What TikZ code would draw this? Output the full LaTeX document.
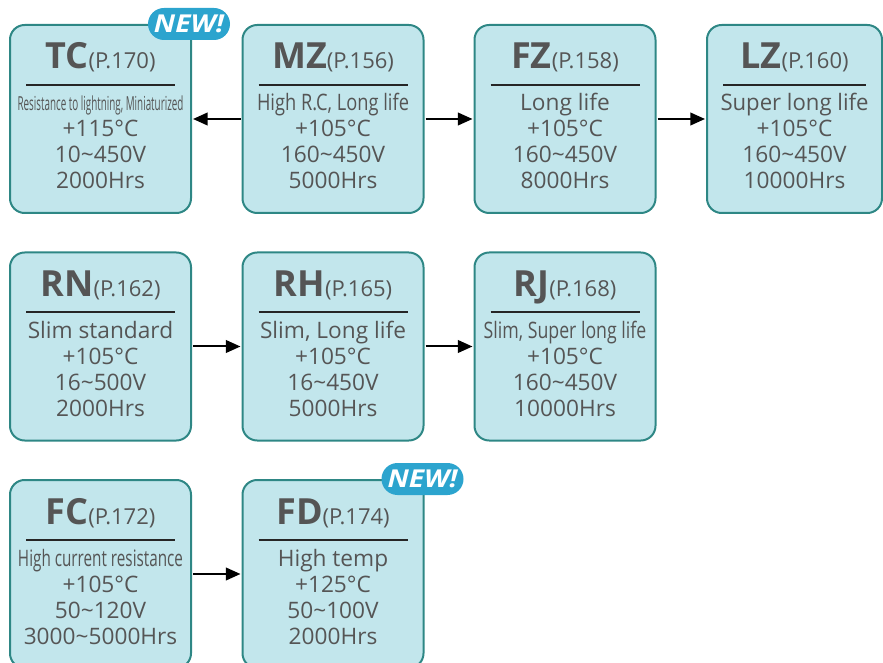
\documentclass[tikz,border=0pt]{standalone}
\usepackage{fontspec}
\setmainfont{Open Sans}
\usetikzlibrary{arrows.meta,calc}

\definecolor{cardfill}{HTML}{C2E6EC}
\definecolor{cardline}{HTML}{2E8785}
\definecolor{inkgray}{HTML}{555555}
\definecolor{newblue}{HTML}{2CA4CE}

\newcommand{\pagefont}{\fontsize{16.5}{18}\selectfont\mdseries}
\newcommand{\fitw}[2]{\resizebox{#1}{\height}{#2}}
% name, centre, code, page, use, temperature, voltage, life
\newcommand{\card}[8]{%
  \node[card] (#1) at (#2) {};
  \node[ttl] (#1-ttl) at ($(#1.north)+(0,44)$) {#3{\pagefont(#4)}};
  \draw[rule] ($(#1.north west)+(16,60)$) -- ($(#1.north east)+(-16,60)$);
  \node[txt] (#1-use) at ($(#1.north)+(0,86)$) {#5};
  \node[txt] (#1-temp) at ($(#1.north)+(0,112)$) {#6};
  \node[txt] (#1-volt) at ($(#1.north)+(0,138)$) {#7};
  \node[txt] (#1-life) at ($(#1.north)+(0,164)$) {#8};
}

\tikzset{
  card/.style={draw=cardline, fill=cardfill, line width=1.5pt, rounded corners=11pt,
    minimum width=135.75pt, minimum height=141pt, inner sep=0pt, outer sep=0pt},
  ttl/.style={anchor=base, inner sep=0pt, text=inkgray, font=\fontsize{27}{30}\selectfont\bfseries},
  txt/.style={anchor=base, inner sep=0pt, text=inkgray, font=\fontsize{17}{20}\selectfont},
  rule/.style={line width=1.5pt, black!85},
  link/.style={line width=1.5pt, -{Triangle[length=11pt,width=9.5pt]}, shorten <=1.5pt, shorten >=1.5pt},
  newtag/.style={fill=newblue, text=white, rounded corners=12pt, minimum width=61.5pt,
    minimum height=24pt, inner sep=0pt, font=\fontsize{18.5}{18}\selectfont\bfseries\itshape}
}

\begin{document}
\begin{tikzpicture}[x=0.75pt, y=-0.75pt]
    \clip (0,0) rectangle (883,663);

    % First row
    \card{tc}{100.5,119}{TC}{P.170}{\fitw{124.5pt}{\fontsize{14.5}{16}\selectfont Resistance to lightning, Miniaturized}}{+115°C}{10\textasciitilde450V}{2000Hrs}
    \card{mz}{333,119}{MZ}{P.156}{\fitw{114pt}{High R.C, Long life}}{+105°C}{160\textasciitilde450V}{5000Hrs}
    \card{fz}{565,119}{FZ}{P.158}{Long life}{+105°C}{160\textasciitilde450V}{8000Hrs}
    \tikzset{card/.append style={minimum width=131.25pt}}
    \card{lz}{794.5,119}{LZ}{P.160}{\fitw{111pt}{Super long life}}{+105°C}{160\textasciitilde450V}{10000Hrs}
    \tikzset{card/.append style={minimum width=135.75pt}}

    % Second row
    \card{rn}{100.5,346.5}{RN}{P.162}{Slim standard}{+105°C}{16\textasciitilde500V}{2000Hrs}
    \card{rh}{333,346.5}{RH}{P.165}{Slim, Long life}{+105°C}{16\textasciitilde450V}{5000Hrs}
    \card{rj}{565,346.5}{RJ}{P.168}{\fitw{122pt}{Slim, Super long life}}{+105°C}{160\textasciitilde450V}{10000Hrs}

    % Third row
    \card{fc}{100.5,574}{FC}{P.172}{\fitw{123.75pt}{High current resistance}}{+105°C}{50\textasciitilde120V}{3000\textasciitilde5000Hrs}
    \card{fd}{333,574}{FD}{P.174}{High temp}{+125°C}{50\textasciitilde100V}{2000Hrs}

    % New series
    \node[newtag] (tc-new) at ($(tc.north east)+(-2,-1)$) {\fitw{52.5pt}{NEW!}};
    \node[newtag] (fd-new) at ($(fd.north east)+(-1,-1)$) {\fitw{52.5pt}{NEW!}};

    % Arrows
    \draw[link] (mz) -- (tc);
    \draw[link] (mz) -- (fz);
    \draw[link] (fz) -- (lz);
    \draw[link] (rn) -- (rh);
    \draw[link] (rh) -- (rj);
    \draw[link] (fc) -- (fd);
\end{tikzpicture}
\end{document}
